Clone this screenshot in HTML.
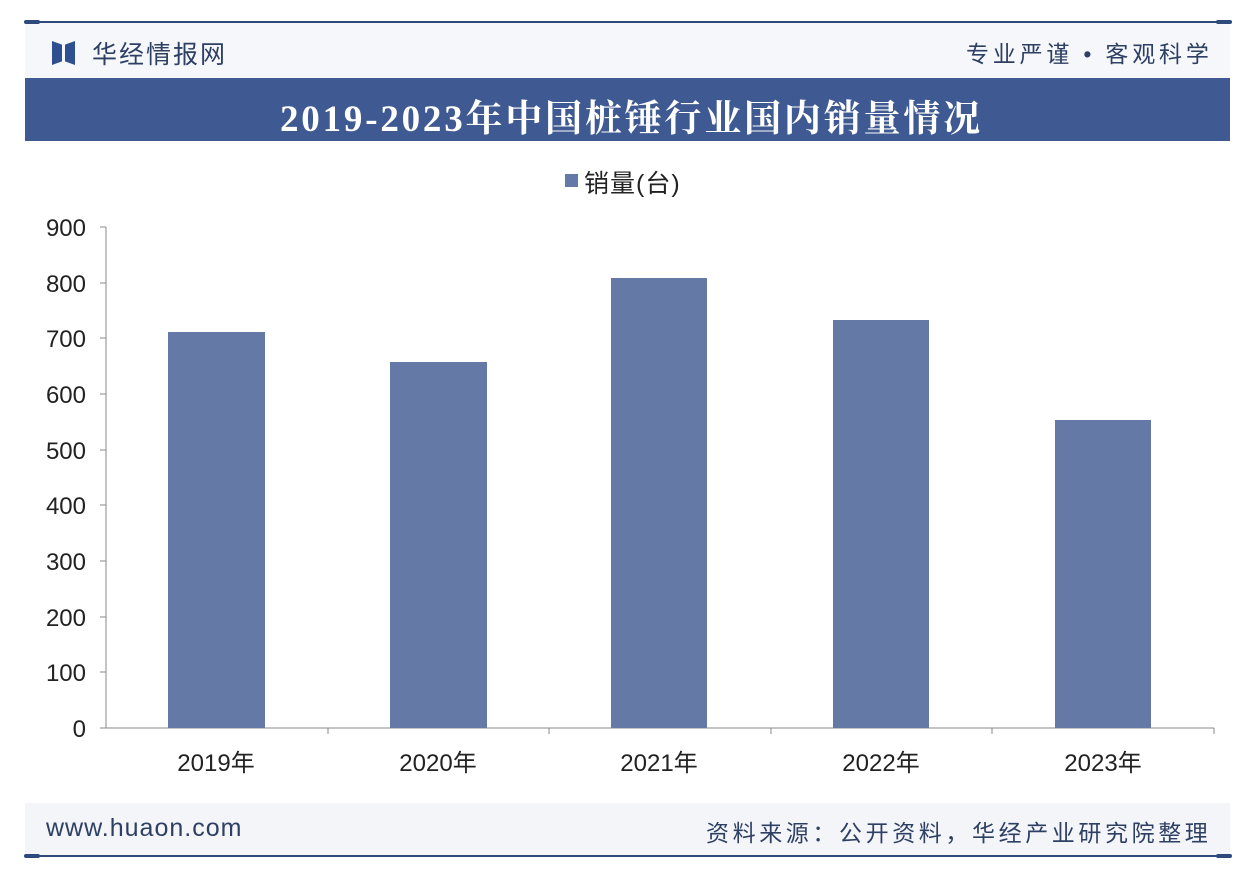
<!DOCTYPE html>
<html><head><meta charset="utf-8"><style>
body{margin:0;width:1250px;height:872px;background:#fff;position:relative;overflow:hidden;font-family:"Liberation Sans","Noto Sans CJK SC",sans-serif}
.a{position:absolute;white-space:nowrap}
</style></head><body>
<div class="a" style="left:25px;top:22px;width:1205px;height:56px;background:#f6f7fa"></div>
<div class="a" style="left:25px;top:21px;width:1205px;height:2px;background:#2e4a7c"></div>
<div class="a" style="left:24px;top:20px;width:16px;height:4px;border-radius:2px;background:#2e4a7c"></div>
<div class="a" style="left:1216px;top:20px;width:16px;height:4px;border-radius:2px;background:#2e4a7c"></div>
<div class="a" style="left:52px;top:41px;width:10px;height:24px;background:#2f5090;clip-path:polygon(0 0,100% 15%,100% 85%,0 100%)"></div>
<div class="a" style="left:65px;top:41px;width:10px;height:24px;background:#2f5090;clip-path:polygon(0 15%,100% 0,100% 100%,0 85%)"></div>
<div class="a" style="left:92px;top:35px;font-size:25px;letter-spacing:2px;color:#2d3f63">华经情报网</div>
<div class="a" style="left:966px;top:35px;font-size:23px;color:#2d3f63;letter-spacing:3.8px">专业严谨 • 客观科学</div>
<div class="a" style="left:25px;top:78px;width:1205px;height:63px;background:#3f5a92"></div>
<div class="a" style="left:280px;top:88px;font-family:'Liberation Serif','Noto Serif CJK SC',serif;font-weight:bold;font-size:37px;letter-spacing:2.8px;color:#fff">2019-2023年中国桩锤行业国内销量情况</div>
<div class="a" style="left:565px;top:174px;width:13px;height:13px;background:#6479a5"></div>
<div class="a" style="left:584px;top:164px;font-size:25px;letter-spacing:1px;color:#222">销量(台)</div>
<svg class="a" style="left:0;top:0" width="1250" height="872">
<g stroke="#888" stroke-width="1">
<line x1="106" y1="227" x2="106" y2="728"/><line x1="106" y1="728" x2="1214" y2="728"/>
<line x1="100" y1="227" x2="106" y2="227"/><line x1="100" y1="283" x2="106" y2="283"/><line x1="100" y1="338" x2="106" y2="338"/><line x1="100" y1="394" x2="106" y2="394"/><line x1="100" y1="450" x2="106" y2="450"/><line x1="100" y1="505" x2="106" y2="505"/><line x1="100" y1="561" x2="106" y2="561"/><line x1="100" y1="617" x2="106" y2="617"/><line x1="100" y1="672" x2="106" y2="672"/><line x1="100" y1="728" x2="106" y2="728"/>
<line x1="328" y1="728" x2="328" y2="734"/><line x1="549" y1="728" x2="549" y2="734"/><line x1="771" y1="728" x2="771" y2="734"/><line x1="992" y1="728" x2="992" y2="734"/><line x1="1214" y1="728" x2="1214" y2="734"/>
</g>
<g fill="#6479a5">
<rect x="168" y="332" width="97" height="396"/><rect x="390" y="362" width="97" height="366"/><rect x="611" y="278" width="96" height="450"/><rect x="833" y="320" width="96" height="408"/><rect x="1055" y="420" width="96" height="308"/>
</g>
<g font-size="24" fill="#222" text-anchor="end" font-family="Liberation Sans">
<text x="86" y="236">900</text><text x="86" y="292">800</text><text x="86" y="347">700</text><text x="86" y="403">600</text><text x="86" y="459">500</text><text x="86" y="514">400</text><text x="86" y="570">300</text><text x="86" y="626">200</text><text x="86" y="681">100</text><text x="86" y="737">0</text>
</g>
<g font-size="24" fill="#222" text-anchor="middle" font-family="Liberation Sans,Noto Sans CJK SC">
<text x="216" y="771">2019年</text><text x="438" y="771">2020年</text><text x="659" y="771">2021年</text><text x="881" y="771">2022年</text><text x="1103" y="771">2023年</text>
</g>
</svg>
<div class="a" style="left:25px;top:803px;width:1205px;height:53px;background:#f4f5f8"></div>
<div class="a" style="left:25px;top:855px;width:1205px;height:2px;background:#2e4a7c"></div>
<div class="a" style="left:24px;top:854px;width:16px;height:4px;border-radius:2px;background:#2e4a7c"></div>
<div class="a" style="left:1216px;top:854px;width:16px;height:4px;border-radius:2px;background:#2e4a7c"></div>
<div class="a" style="left:46px;top:814px;font-size:25px;letter-spacing:1px;color:#2d3f63">www.huaon.com</div>
<div class="a" style="left:706px;top:814px;font-size:23px;letter-spacing:3.6px;color:#2d3f63">资料来源：公开资料，华经产业研究院整理</div>
</body></html>
